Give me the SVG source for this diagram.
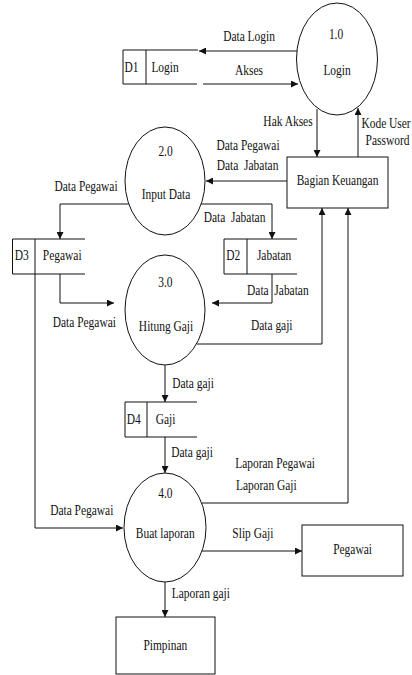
<svg xmlns="http://www.w3.org/2000/svg" width="412" height="675" viewBox="0 0 412 675">
<style>
  .t { font-family: "Liberation Serif", "Times New Roman", serif; font-size: 14.5px; fill: #111; text-anchor: middle; white-space: pre; transform-box: fill-box; transform-origin: center; transform: scaleX(0.79); }
  .s { fill: #fff; stroke: #111; stroke-width: 1; }
  .ln { fill: none; stroke: #111; stroke-width: 1; }
  .c { fill: none; stroke: #111; stroke-width: 1; marker-end: url(#ah); }
</style>
<defs>
  <marker id="ah" viewBox="0 0 10 10" refX="10" refY="5" markerWidth="8" markerHeight="7" markerUnits="userSpaceOnUse" orient="auto">
    <path d="M0,0 L10,5 L0,10 z" fill="#111"/>
  </marker>
</defs>
<rect width="412" height="675" fill="#fff"/>

<g id="connectors">
  <line class="c" x1="297" y1="51" x2="199" y2="51"/>
  <line class="c" x1="203" y1="84" x2="298" y2="84"/>
  <line class="c" x1="317" y1="109" x2="317" y2="157"/>
  <line class="c" x1="358" y1="157" x2="358" y2="108"/>
  <line class="c" x1="287" y1="181" x2="206" y2="181"/>
  <polyline class="c" points="129,204 60,204 60,239"/>
  <polyline class="c" points="201,204 272,204 272,239"/>
  <polyline class="c" points="272,274 272,303 212,303"/>
  <polyline class="c" points="60,274 60,303 114,303"/>
  <polyline class="c" points="197,344 322,344 322,208"/>
  <line class="c" x1="165" y1="365" x2="165" y2="402"/>
  <line class="c" x1="165" y1="437" x2="165" y2="473"/>
  <polyline class="c" points="35,274 35,528 123,528"/>
  <polyline class="c" points="202,503 348,503 348,208"/>
  <line class="c" x1="202" y1="551" x2="302" y2="551"/>
  <line class="c" x1="165" y1="582" x2="165" y2="617"/>
</g>

<g id="p1">
  <ellipse class="s" cx="337" cy="59" rx="40.5" ry="56"/>
  <text class="t" x="336" y="39">1.0</text>
  <text class="t" x="337" y="75">Login</text>
</g>
<g id="p2">
  <ellipse class="s" cx="165" cy="181" rx="40" ry="54"/>
  <text class="t" x="165.5" y="156">2.0</text>
  <text class="t" x="166" y="199">Input Data</text>
</g>
<g id="p3">
  <ellipse class="s" cx="165" cy="310" rx="40" ry="55"/>
  <text class="t" x="165.3" y="287">3.0</text>
  <text class="t" x="166" y="331.5">Hitung Gaji</text>
</g>
<g id="p4">
  <ellipse class="s" cx="165" cy="527.5" rx="41" ry="54.5"/>
  <text class="t" x="165.3" y="498">4.0</text>
  <text class="t" x="165.2" y="538">Buat laporan</text>
</g>

<g id="d1">
  <path class="ln" d="M198,50 H123 V84 H197 M146,50 V84"/>
  <text class="t" x="131.5" y="72.5">D1</text>
  <text class="t" x="165" y="72">Login</text>
</g>
<g id="d3">
  <path class="ln" d="M85,239 H12.5 V274 H85 M35,239 V274"/>
  <text class="t" x="21.7" y="260.5">D3</text>
  <text class="t" x="62.2" y="260.5">Pegawai</text>
</g>
<g id="d2">
  <path class="ln" d="M297,239 H224 V274 H297 M247,239 V274"/>
  <text class="t" x="233.3" y="260.5">D2</text>
  <text class="t" x="274" y="260.5">Jabatan</text>
</g>
<g id="d4">
  <path class="ln" d="M197,402 H125 V437 H197 M147,402 V437"/>
  <text class="t" x="133.7" y="424">D4</text>
  <text class="t" x="165.5" y="424">Gaji</text>
</g>

<g id="e-keuangan">
  <rect class="s" x="287" y="157" width="101" height="51"/>
  <text class="t" x="337.5" y="185.5">Bagian Keuangan</text>
</g>
<g id="e-pegawai">
  <rect class="s" x="302" y="525" width="101" height="51"/>
  <text class="t" x="352.5" y="554">Pegawai</text>
</g>
<g id="e-pimpinan">
  <rect class="s" x="116" y="617" width="99" height="57"/>
  <text class="t" x="165.3" y="650.5">Pimpinan</text>
</g>

<g id="labels">
  <text class="t" x="249" y="41">Data Login</text>
  <text class="t" x="249" y="75">Akses</text>
  <text class="t" x="288" y="126">Hak Akses</text>
  <text class="t" x="386" y="128">Kode User</text>
  <text class="t" x="387.5" y="145">Password</text>
  <text class="t" x="248" y="150.5">Data Pegawai</text>
  <text class="t" x="247.5" y="170.5">Data  Jabatan</text>
  <text class="t" x="86" y="191.5">Data Pegawai</text>
  <text class="t" x="234.5" y="222">Data  Jabatan</text>
  <text class="t" x="277.8" y="295.5">Data  Jabatan</text>
  <text class="t" x="84.3" y="327">Data Pegawai</text>
  <text class="t" x="271.7" y="330.5">Data gaji</text>
  <text class="t" x="193" y="388">Data gaji</text>
  <text class="t" x="192" y="457">Data gaji</text>
  <text class="t" x="275" y="468">Laporan Pegawai</text>
  <text class="t" x="266.3" y="490.5">Laporan Gaji</text>
  <text class="t" x="81.7" y="515">Data Pegawai</text>
  <text class="t" x="252.8" y="538">Slip Gaji</text>
  <text class="t" x="200.8" y="598">Laporan gaji</text>
</g>
</svg>
